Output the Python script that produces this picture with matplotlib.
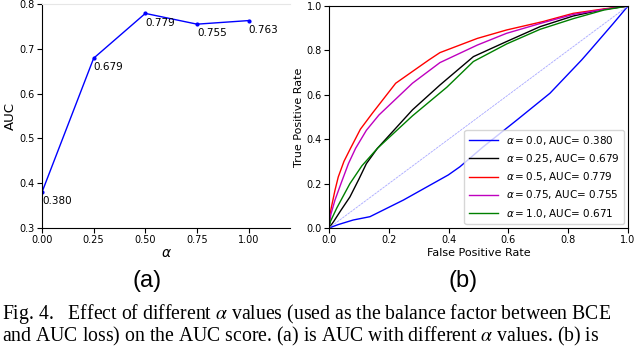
import numpy as np
import matplotlib
matplotlib.use('Agg')
import matplotlib.pyplot as plt

# (a) AUC vs alpha
alphas = [0.0, 0.25, 0.5, 0.75, 1.0]
aucs = [0.380, 0.679, 0.779, 0.755, 0.763]

# (b) ROC curves (fpr, tpr)
fpr_a0 = [0, 0.03, 0.081, 0.137, 0.249, 0.399, 0.438, 0.516, 0.628, 0.739, 0.845, 0.873, 0.95, 1.0]
tpr_a0 = [0, 0.015, 0.036, 0.051, 0.126, 0.239, 0.276, 0.366, 0.486, 0.607, 0.757, 0.80, 0.92, 1.0]

fpr_a25 = [0, 0.015, 0.04, 0.07, 0.10, 0.125, 0.162, 0.279, 0.371, 0.483, 0.594, 0.706, 0.817, 0.92, 1.0]
tpr_a25 = [0, 0.028, 0.08, 0.14, 0.22, 0.29, 0.359, 0.532, 0.644, 0.772, 0.84, 0.907, 0.955, 0.985, 1.0]

fpr_a50 = [0, 0.003, 0.009, 0.02, 0.031, 0.05, 0.072, 0.105, 0.145, 0.223, 0.334, 0.371, 0.496, 0.594, 0.716, 0.817, 0.92, 1.0]
tpr_a50 = [0, 0.06, 0.10, 0.17, 0.23, 0.30, 0.359, 0.445, 0.517, 0.652, 0.757, 0.79, 0.854, 0.892, 0.93, 0.967, 0.987, 1.0]

fpr_a75 = [0, 0.006, 0.02, 0.04, 0.065, 0.089, 0.125, 0.167, 0.279, 0.371, 0.496, 0.594, 0.716, 0.817, 0.92, 1.0]
tpr_a75 = [0, 0.06, 0.126, 0.20, 0.29, 0.359, 0.44, 0.509, 0.652, 0.745, 0.824, 0.877, 0.925, 0.962, 0.985, 1.0]

fpr_a100 = [0, 0.005, 0.026, 0.05, 0.07, 0.11, 0.162, 0.279, 0.394, 0.483, 0.594, 0.706, 0.817, 0.92, 1.0]
tpr_a100 = [0, 0.03, 0.09, 0.15, 0.20, 0.28, 0.359, 0.505, 0.634, 0.75, 0.829, 0.895, 0.943, 0.982, 1.0]

roc_labels = [r'$\alpha = 0.0$, AUC= 0.380', r'$\alpha = 0.25$, AUC= 0.679',
              r'$\alpha = 0.5$, AUC= 0.779', r'$\alpha = 0.75$, AUC= 0.755',
              r'$\alpha = 1.0$, AUC= 0.671']
roc_colors = ['b', 'k', 'r', 'm', 'g']

caption1 = r'Fig. 4.   Effect of different $\alpha$ values (used as the balance factor between BCE'
caption2 = r'and AUC loss) on the AUC score. (a) is AUC with different $\alpha$ values. (b) is'


def main():
    W, H = 640, 348
    fig = plt.figure(figsize=(W / 100, H / 100), dpi=100)

    # left panel
    ax1 = fig.add_axes([42 / W, (H - 228) / H, 248 / W, 224 / H])
    ax1.plot(alphas, aucs, 'b.-', lw=1, ms=4)
    for a, v in zip(alphas, aucs):
        ax1.annotate('%.3f' % v, (a, v), xytext=(0, -3), textcoords='offset points',
                     ha='left', va='top', fontsize=7.5)
    ax1.set_xlim(0, 1.2)
    ax1.set_ylim(0.3, 0.8)
    ax1.set_xticks(alphas)
    ax1.set_xticklabels(['%.2f' % a for a in alphas])
    ax1.set_yticks([0.3, 0.4, 0.5, 0.6, 0.7, 0.8])
    ax1.set_yticklabels(['0.3', '0.4', '0.5', '0.6', '0.7', '0.8'])
    ax1.tick_params(labelsize=7, pad=1.5)
    ax1.spines['right'].set_visible(False)
    ax1.spines['top'].set_color('#e6e6e6')
    ax1.set_ylabel('AUC', fontsize=9.5, labelpad=2)
    ax1.set_xlabel(r'$\alpha$', fontsize=10, labelpad=1)

    # right panel
    ax2 = fig.add_axes([329 / W, (H - 228) / H, 299 / W, 222 / H])
    curves = [(fpr_a0, tpr_a0), (fpr_a25, tpr_a25), (fpr_a50, tpr_a50),
              (fpr_a75, tpr_a75), (fpr_a100, tpr_a100)]
    for (f, t), c, lab in zip(curves, roc_colors, roc_labels):
        ax2.plot(f, t, color=c, lw=1, label=lab)
    ax2.plot([0, 1], [0, 1], color='#a8a8ff', lw=0.6, ls=(0, (3, 1)))
    ax2.set_xlim(0, 1)
    ax2.set_ylim(0, 1)
    ax2.set_xticks(np.arange(0, 1.01, 0.2))
    ax2.set_yticks(np.arange(0, 1.01, 0.2))
    ax2.tick_params(labelsize=7, pad=1.5)
    ax2.set_xlabel('False Positive Rate', fontsize=8, labelpad=2)
    ax2.set_ylabel('True Positive Rate', fontsize=8, labelpad=2)
    ax2.legend(loc='lower right', fontsize=7.5, handlelength=2.8, borderaxespad=0.4)

    fig.text(147 / W, (H - 281) / H, '(a)', ha='center', va='center',
             fontsize=17, family='Liberation Sans')
    fig.text(463 / W, (H - 281) / H, '(b)', ha='center', va='center',
             fontsize=17, family='Liberation Sans')

    fig.text(2 / W, (H - 318.5) / H, caption1, ha='left', va='baseline',
             fontsize=14.2, family='Liberation Serif', math_fontfamily='stix')
    fig.text(2 / W, (H - 341.5) / H, caption2, ha='left', va='baseline',
             fontsize=14.2, family='Liberation Serif', math_fontfamily='stix')

    fig.savefig('out.png', dpi=100)


if __name__ == '__main__':
    main()
